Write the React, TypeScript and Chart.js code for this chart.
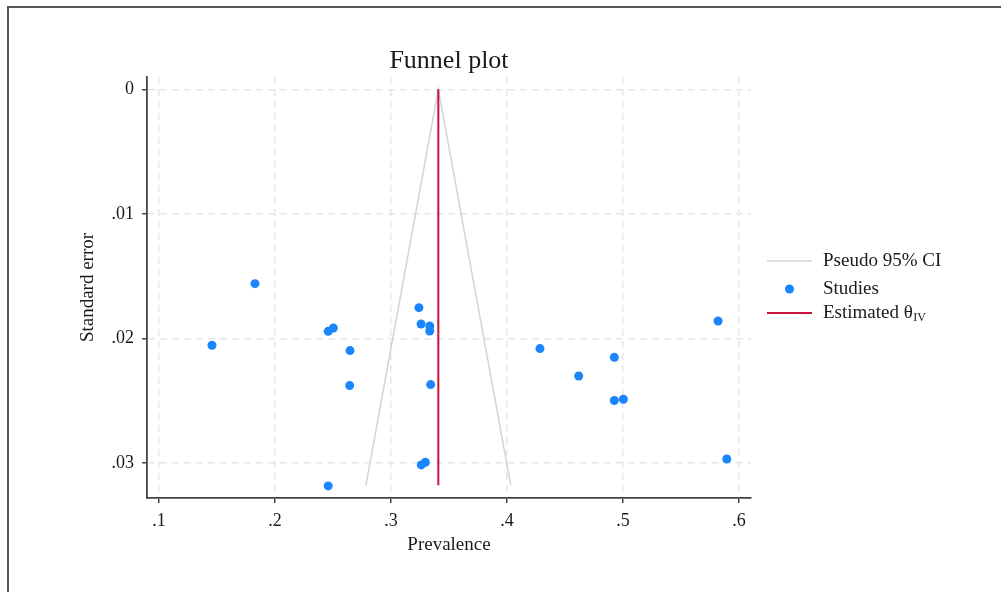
import React, { useEffect, useRef } from 'react';
import { Chart, registerables } from 'chart.js';

Chart.register(...registerables);

// Study estimates
const studyPrevalence = [
  0.1828, 0.1457, 0.2459, 0.2503, 0.2647, 0.2644, 0.2459,
  0.3241, 0.3259, 0.3334, 0.3334, 0.3342, 0.3261, 0.3296,
  0.4284, 0.4925, 0.4618, 0.4925, 0.5003, 0.5819, 0.5894,
];
const studySE = [
  0.01561, 0.02056, 0.01944, 0.01917, 0.02099, 0.0238, 0.03186,
  0.01754, 0.01885, 0.01901, 0.01941, 0.02372, 0.03017, 0.02996,
  0.02083, 0.02153, 0.02303, 0.025, 0.0249, 0.01861, 0.0297,
];

// Pseudo 95% CI funnel (left bottom, apex, right bottom)
const funnelPrevalence = [0.2784, 0.3408, 0.4032];
const funnelSE = [0.0318, 0, 0.0318];

// Estimated theta (IV) line
const estimatePrevalence = [0.3408, 0.3408];
const estimateSE = [0, 0.0318];

const xTicks = [0.1, 0.2, 0.3, 0.4, 0.5, 0.6];
const xTickLabels = ['.1', '.2', '.3', '.4', '.5', '.6'];
const yTicks = [0, 0.01, 0.02, 0.03];
const yTickLabels = ['0', '.01', '.02', '.03'];

const xMin = 0.0897;
const xMax = 0.6103;
const yMin = -0.00099;
const yMax = 0.03283;

const SERIF = '"Liberation Serif", "Times New Roman", serif';
const TEXT = '#1a1a1a';
const BLUE = '#1a85ff';
const RED = '#c8143c';
const FUNNEL = '#d4d4d4';
const GRID = '#e6e6e6';
const AXIS = '#444444';

const overlayPlugin = {
  id: 'overlay',
  afterDraw(chart: any) {
    const { ctx, chartArea } = chart;
    ctx.save();
    // Title
    ctx.fillStyle = TEXT;
    ctx.font = `26px ${SERIF}`;
    ctx.textAlign = 'center';
    ctx.textBaseline = 'middle';
    ctx.fillText('Funnel plot', (chartArea.left + chartArea.right) / 2, 61);

    // Legend
    const lx1 = 767;
    const lx2 = 812;
    const tx = 823;
    const rows = [261, 289, 313];
    ctx.lineCap = 'butt';
    ctx.strokeStyle = FUNNEL;
    ctx.lineWidth = 1.5;
    ctx.beginPath();
    ctx.moveTo(lx1, rows[0]);
    ctx.lineTo(lx2, rows[0]);
    ctx.stroke();

    ctx.fillStyle = BLUE;
    ctx.beginPath();
    ctx.arc((lx1 + lx2) / 2, rows[1], 4.5, 0, Math.PI * 2);
    ctx.fill();

    ctx.strokeStyle = RED;
    ctx.lineWidth = 2;
    ctx.beginPath();
    ctx.moveTo(lx1, rows[2]);
    ctx.lineTo(lx2, rows[2]);
    ctx.stroke();

    ctx.fillStyle = TEXT;
    ctx.font = `19px ${SERIF}`;
    ctx.textAlign = 'left';
    ctx.textBaseline = 'middle';
    ctx.fillText('Pseudo 95% CI', tx, rows[0]);
    ctx.fillText('Studies', tx, rows[1]);
    const est = 'Estimated θ';
    ctx.fillText(est, tx, rows[2]);
    const w = ctx.measureText(est).width;
    ctx.font = `12px ${SERIF}`;
    ctx.fillText('IV', tx + w + 0.5, rows[2] + 5);
    ctx.restore();
  },
};

export default function App() {
  const canvasRef = useRef<HTMLCanvasElement | null>(null);

  useEffect(() => {
    const canvas = canvasRef.current;
    if (!canvas) return;

    const studies = studyPrevalence.map((x, i) => ({ x, y: studySE[i] }));
    const funnel = funnelPrevalence.map((x, i) => ({ x, y: funnelSE[i] }));
    const estimate = estimatePrevalence.map((x, i) => ({ x, y: estimateSE[i] }));

    const chart = new Chart(canvas, {
      type: 'scatter',
      data: {
        datasets: [
          {
            label: 'Studies',
            data: studies,
            backgroundColor: BLUE,
            borderColor: BLUE,
            borderWidth: 0,
            pointRadius: 4.5,
            pointHoverRadius: 4.5,
          },
          {
            label: 'Estimated θIV',
            data: estimate,
            showLine: true,
            borderColor: RED,
            borderWidth: 2,
            pointRadius: 0,
            fill: false,
          },
          {
            label: 'Pseudo 95% CI',
            data: funnel,
            showLine: true,
            borderColor: FUNNEL,
            borderWidth: 1.5,
            pointRadius: 0,
            fill: false,
            tension: 0,
          },
        ],
      },
      options: {
        animation: false,
        responsive: false,
        maintainAspectRatio: false,
        layout: { padding: { left: 0, right: 250, top: 77, bottom: 0 } },
        plugins: {
          legend: { display: false },
          title: { display: false },
          tooltip: { enabled: false },
        },
        scales: {
          x: {
            type: 'linear',
            min: xMin,
            max: xMax,
            afterFit(scale: any) {
              scale.height = 94;
            },
            afterBuildTicks(scale: any) {
              scale.ticks = xTicks.map((v) => ({ value: v }));
            },
            ticks: {
              callback: (_v: any, i: number) => xTickLabels[i],
              color: TEXT,
              font: { family: SERIF, size: 18 },
              padding: 7,
              maxRotation: 0,
              autoSkip: false,
            },
            grid: {
              color: GRID,
              lineWidth: 1.5,
              drawTicks: true,
              tickLength: 5,
              tickColor: AXIS,
              tickWidth: 1.5,
              tickBorderDash: [],
            },
            border: { display: true, color: AXIS, width: 1.8, dash: [7, 5] },
            title: {
              display: true,
              text: 'Prevalence',
              color: TEXT,
              font: { family: SERIF, size: 19 },
              padding: { top: 0, bottom: 36 },
            },
          },
          y: {
            type: 'linear',
            reverse: true,
            min: yMin,
            max: yMax,
            afterFit(scale: any) {
              scale.width = 147;
            },
            afterBuildTicks(scale: any) {
              scale.ticks = yTicks.map((v) => ({ value: v }));
            },
            ticks: {
              callback: (_v: any, i: number) => yTickLabels[i],
              color: TEXT,
              font: { family: SERIF, size: 18 },
              padding: 8,
              autoSkip: false,
            },
            grid: {
              color: GRID,
              lineWidth: 1.5,
              drawTicks: true,
              tickLength: 5,
              tickColor: AXIS,
              tickWidth: 1.5,
              tickBorderDash: [],
            },
            border: { display: true, color: AXIS, width: 1.8, dash: [7, 5] },
            title: {
              display: true,
              text: 'Standard error',
              color: TEXT,
              font: { family: SERIF, size: 19 },
              padding: { top: 77, bottom: 0 },
            },
          },
        },
      },
      plugins: [overlayPlugin],
    });

    return () => {
      chart.destroy();
    };
  }, []);

  return (
    <div
      style={{
        position: 'absolute',
        left: 0,
        top: 0,
        width: 1001,
        height: 592,
        overflow: 'hidden',
        background: '#ffffff',
      }}
    >
      <canvas
        ref={canvasRef}
        width={1001}
        height={592}
        style={{ position: 'absolute', left: 0, top: 0, width: 1001, height: 592 }}
      />
      <div
        style={{
          position: 'absolute',
          left: 7,
          top: 6,
          width: 994,
          height: 586,
          borderTop: '2px solid #555555',
          borderLeft: '2px solid #555555',
          boxSizing: 'border-box',
          pointerEvents: 'none',
        }}
      />
    </div>
  );
}
